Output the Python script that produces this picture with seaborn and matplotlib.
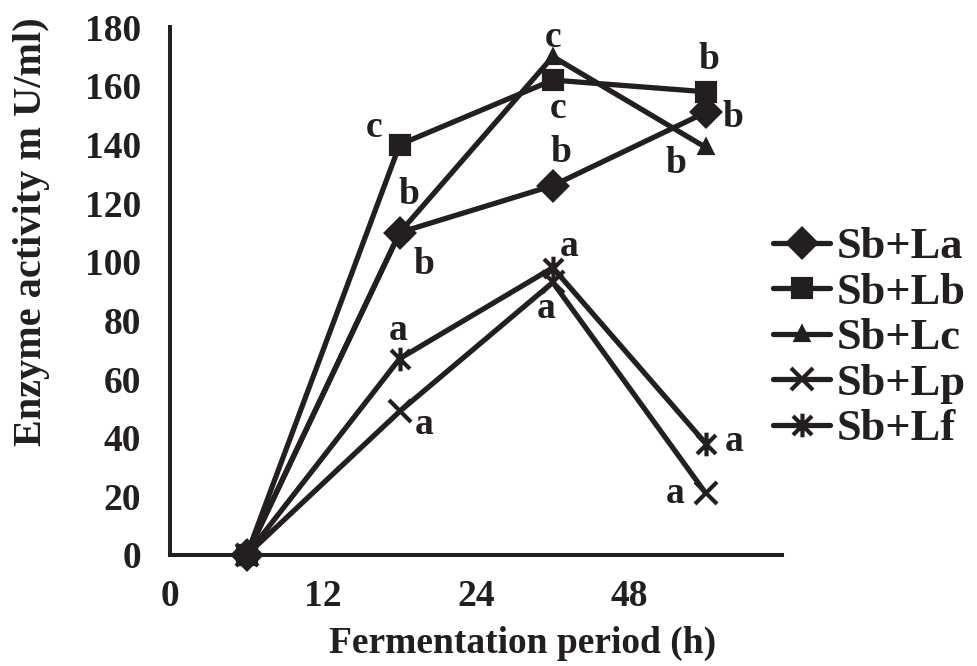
import matplotlib
matplotlib.use('Agg')
import matplotlib.pyplot as plt
from matplotlib.path import Path
import seaborn as sns
import pandas as pd

# data
periods = ['0', '12', '24', '48']
series = ['Sb+La', 'Sb+Lb', 'Sb+Lc', 'Sb+Lp', 'Sb+Lf']
sb_la = [0, 110, 126, 151]
sb_lb = [0, 140, 162, 158]
sb_lc = [0, 110, 170, 139]
sb_lp = [0, 49, 93, 21]
sb_lf = [0, 67, 98, 38]
values = [sb_la, sb_lb, sb_lc, sb_lp, sb_lf]

# significance letters (point index 1..3 for each series)
letters_la = ['b', 'b', 'b']
letters_lb = ['c', 'c', 'b']
letters_lc = ['b', 'c', 'b']
letters_lp = ['a', 'a', 'a']
letters_lf = ['a', 'a', 'a']
letters = [letters_la, letters_lb, letters_lc, letters_lp, letters_lf]

# label offsets in pixels (dx, dy up)
offsets = [
    [(24, -32), (8, 33), (27, -5)],
    [(-26, 17), (5, -28), (3, 32)],
    [(9, 38), (0, 19), (-30, -16)],
    [(24, -13), (-7, -26), (-31, 0)],
    [(-2, 28), (16, 21), (28, 2)],
]

ink = '#231f20'
star = Path([(-1, -1), (1, 1), (-1, 1), (1, -1), (0, -1.25), (0, 1.25)],
            [Path.MOVETO, Path.LINETO, Path.MOVETO, Path.LINETO, Path.MOVETO, Path.LINETO])
markers = ['D', 's', '^', 'x', star]
msizes = [14, 13, 9, 16, 17]

sns.set_style('white')
plt.rcParams['font.family'] = ['Liberation Serif', 'DejaVu Serif']
plt.rcParams['font.weight'] = 'bold'

fig = plt.figure(figsize=(9.78, 6.66), dpi=100)
ax = fig.add_axes([0.174, 0.1667, 0.626, 0.7923])

xpos = [i + 0.5 for i in range(len(periods))]
for name, vals, m, ms in zip(series, values, markers, msizes):
    df = pd.DataFrame({'x': xpos, 'y': vals})
    sns.lineplot(data=df, x='x', y='y', ax=ax, color=ink, lw=3.8,
                 marker=m, markersize=ms, markeredgewidth=3,
                 mec=ink, mfc=ink, label=name, clip_on=False)

px = 0.72
for vals, lets, offs in zip(values, letters, offsets):
    for i, (t, (dx, dy)) in enumerate(zip(lets, offs)):
        ax.annotate(t, (xpos[i + 1], vals[i + 1]), xytext=(dx * px, dy * px),
                    textcoords='offset points', ha='center', va='center',
                    fontsize=27, fontweight='bold', color=ink)

ax.set_xlim(0, 4)
ax.set_ylim(0, 180)
ax.set_xticks(range(5))
ax.set_xticklabels(periods + [''])
ax.set_yticks(range(0, 181, 20))
ax.tick_params(axis='both', length=9, width=2.8, color=ink, labelsize=27,
               labelcolor=ink, direction='out')
ax.tick_params(axis='y', pad=12)
ax.tick_params(axis='x', pad=8)
for lab in ax.get_xticklabels() + ax.get_yticklabels():
    lab.set_fontweight('bold')
sns.despine(ax=ax)
for s in ['left', 'bottom']:
    ax.spines[s].set_linewidth(2.9)
    ax.spines[s].set_color(ink)

ax.set_xlabel('Fermentation period (h)', fontsize=27, fontweight='bold', color=ink)
ax.set_ylabel('Enzyme activity m U/ml)', fontsize=29, fontweight='bold', color=ink)
ax.xaxis.set_label_coords(0.575, -0.135)
ax.yaxis.set_label_coords(-0.196, 0.613)

handles, labels = ax.get_legend_handles_labels()
ax.get_legend().remove()
fig.legend(handles, labels, loc='center left', bbox_to_anchor=(0.79, 0.492),
           frameon=False, handlelength=1.3, handletextpad=0.15,
           borderpad=0, borderaxespad=0,
           labelspacing=0.12, labelcolor=ink, prop={'weight': 'bold', 'size': 32})

fig.savefig('out.png', dpi=100)
